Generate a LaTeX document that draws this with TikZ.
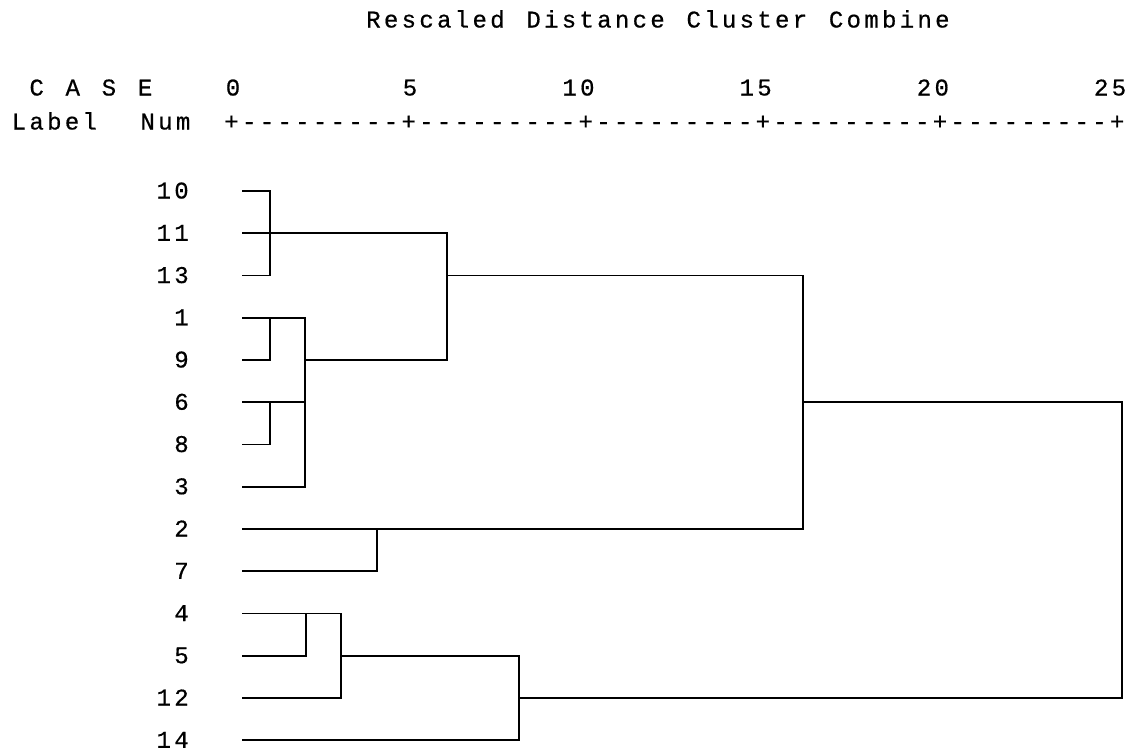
\documentclass[tikz,border=0pt]{standalone}
\usepackage{fontspec}
\newfontfamily\spss[LetterSpace=13.8,FakeBold=0.6]{Liberation Mono}
\newcommand{\spssfont}{\spss\fontsize{18}{18}\selectfont\spaceskip=16.3pt\relax}
\begin{document}
\begin{tikzpicture}[x=0.75pt,y=-0.75pt,
  txt/.style={font=\spssfont, inner sep=0pt, text=black},
  lab/.style={txt, anchor=base east},
  link/.style={line width=1.3pt, draw=black}]
\useasboundingbox[fill=white] (0,0) rectangle (1139,751);
% header
\node[txt, anchor=base west] (title) at (366,27.5) {Rescaled Distance Cluster Combine};
\node[txt, anchor=base west] (case) at (29.2,95.5) {C A S E};
\node[txt, anchor=base west] (labnum) at (11.5,129.5) {Label\ \ Num};
\node[txt, anchor=base] (t0) at (233,95.5) {0};
\node[txt, anchor=base] (t5) at (410,95.5) {5};
\node[txt, anchor=base] (t10) at (578.5,95.5) {10};
\node[txt, anchor=base] (t15) at (755.7,95.5) {15};
\node[txt, anchor=base] (t20) at (932.9,95.5) {20};
\node[txt, anchor=base] (t25) at (1110.1,95.5) {25};
\node[txt, anchor=base west] (ruler) at (224.1,129.5) {+---------+---------+---------+---------+---------+};
% leaves
\def\ya{191}\def\yb{233.25}\def\yc{275.5}\def\yd{317.75}\def\ye{360}
\def\yf{402.25}\def\yg{444.5}\def\yh{486.75}\def\yi{529}\def\yj{571.25}
\def\yk{613.5}\def\yl{655.75}\def\ym{698}\def\yn{740.25}
\foreach \n/\y in {10/\ya,11/\yb,13/\yc,1/\yd,9/\ye,6/\yf,8/\yg,3/\yh,2/\yi,7/\yj,4/\yk,5/\yl,12/\ym,14/\yn}{
  \node[lab] (l\n) at (189,\y+7.5) {\n};
  \coordinate (s\n) at (242,\y);
}
% merge points
\coordinate (e0) at (270,\yb);
\coordinate (e1) at (270,\yd);
\coordinate (e2) at (270,\yf);
\coordinate (d1) at (305,\ye);
\coordinate (c2) at (447,\yc);
\coordinate (f) at (803,\yf);
\coordinate (g) at (377,\yi);
\coordinate (m) at (306,\yk);
\coordinate (k) at (341,\yl);
\coordinate (h) at (519,\ym);
\coordinate (r) at (1122,\ym);
% connectors
\draw[link] (s10) -| (e0) |- (s13);
\draw[link] (s11) -| (c2) |- (d1);
\draw[link] (s9) -| (e1);
\draw[link] (s1) -| (d1) |- (s3);
\draw[link] (s6) -- (d1 |- s6);
\draw[link] (s8) -| (e2);
\draw[link] (c2) -| (f) |- (s2);
\draw[link] (s7) -| (g);
\draw[link] (f) -| (r) |- (h);
\draw[link] (s14) -| (h) |- (k);
\draw[link] (s4) -| (k) |- (s12);
\draw[link] (s5) -| (m);
\end{tikzpicture}
\end{document}
